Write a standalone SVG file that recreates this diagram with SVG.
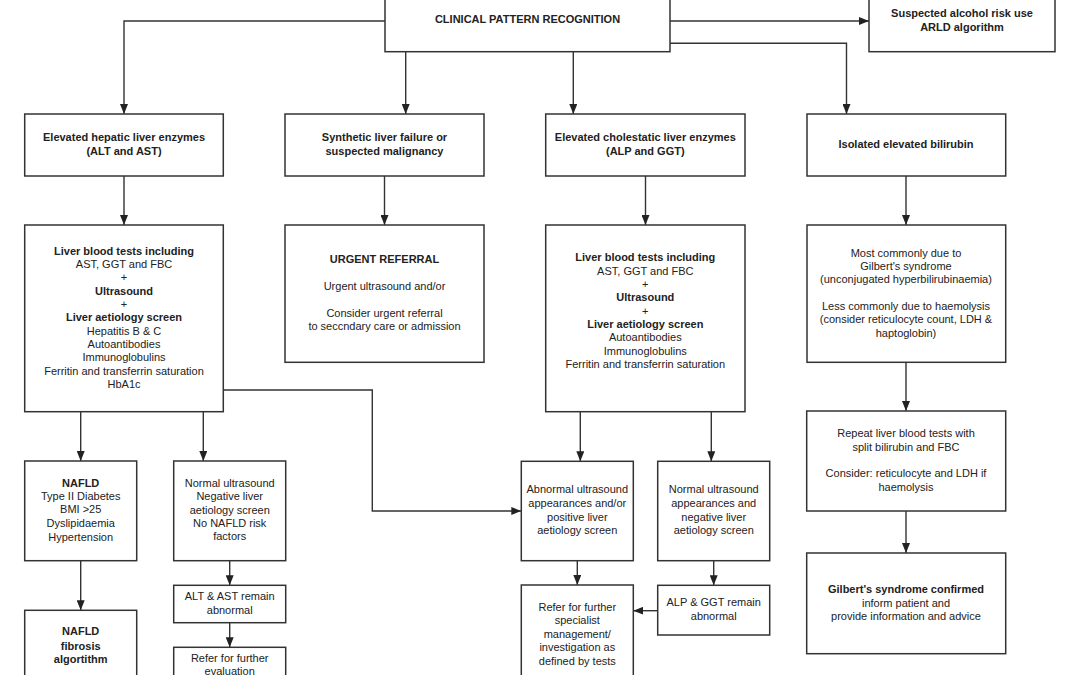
<svg xmlns="http://www.w3.org/2000/svg" width="1080" height="675" viewBox="0 0 1080 675">
<defs>
<marker id="arr" markerUnits="userSpaceOnUse" markerWidth="10" markerHeight="8" refX="10" refY="4" orient="auto">
<path d="M0,0 L10,4 L0,8 z" fill="#222"/>
</marker>
<style>
.box{fill:#fff;stroke:#333;stroke-width:1.5}
.c{fill:none;stroke:#333;stroke-width:1.4;marker-end:url(#arr)}
.l{fill:none;stroke:#333;stroke-width:1.4}
text{font-family:"Liberation Sans",Arial,sans-serif;font-size:11px;fill:#222;text-anchor:middle}
.b{font-weight:bold}
</style>
</defs>
<rect width="1080" height="675" fill="#fff"/>

<g id="connectors">
<path class="c" d="M385,21 H124 V114"/>
<path class="c" d="M405.7,51.7 V114"/>
<path class="c" d="M573.3,51.7 V114"/>
<path class="c" d="M670,43.3 H846.5 V114"/>
<path class="c" d="M670,21 H869"/>
<path class="c" d="M124,176 V225"/>
<path class="c" d="M384.5,176 V225"/>
<path class="c" d="M645.5,176 V225"/>
<path class="c" d="M906,176 V225"/>
<path class="c" d="M80.7,411.7 V461"/>
<path class="c" d="M203.3,411.7 V461"/>
<path class="c" d="M223.3,390 H372.3 V511 H521.3"/>
<path class="c" d="M80.7,560.7 V610.3"/>
<path class="c" d="M229.7,560.7 V585.3"/>
<path class="c" d="M229.7,622.7 V647.3"/>
<path class="c" d="M580.3,411.7 V461.3"/>
<path class="c" d="M711.3,411.7 V461.3"/>
<path class="c" d="M577.3,560.7 V585"/>
<path class="c" d="M713.7,560.7 V585.3"/>
<path class="c" d="M657.7,610.7 H633.3"/>
<path class="c" d="M906,362.3 V411"/>
<path class="c" d="M906,511 V553"/>
</g>

<g id="clinical">
<rect class="box" x="385" y="-30" width="285" height="81.7"/>
<text class="b" x="527.5" y="23.3">CLINICAL PATTERN RECOGNITION</text>
</g>
<g id="alcohol">
<rect class="box" x="869" y="-30" width="186" height="81.7"/>
<text class="b" x="962" y="17.3">Suspected alcohol risk use</text>
<text class="b" x="962" y="30.7">ARLD algorithm</text>
</g>

<g id="hepatic">
<rect class="box" x="24.7" y="114" width="198.6" height="62"/>
<text class="b" x="124" y="141">Elevated hepatic liver enzymes</text>
<text class="b" x="124" y="155">(ALT and AST)</text>
</g>
<g id="synthetic">
<rect class="box" x="285" y="114" width="199" height="62"/>
<text class="b" x="384.5" y="141">Synthetic liver failure or</text>
<text class="b" x="384.5" y="155">suspected malignancy</text>
</g>
<g id="cholestatic">
<rect class="box" x="545.7" y="114" width="199.3" height="62"/>
<text class="b" x="645.3" y="141">Elevated cholestatic liver enzymes</text>
<text class="b" x="645.3" y="155">(ALP and GGT)</text>
</g>
<g id="bilirubin">
<rect class="box" x="807" y="114" width="198.7" height="62"/>
<text class="b" x="906" y="148">Isolated elevated bilirubin</text>
</g>

<g id="tests-hepatic">
<rect class="box" x="24.7" y="225" width="198.6" height="186.7"/>
<text class="b" x="124" y="254.7">Liver blood tests including</text>
<text x="124" y="268">AST, GGT and FBC</text>
<text x="124" y="281.3">+</text>
<text class="b" x="124" y="294.7">Ultrasound</text>
<text x="124" y="308">+</text>
<text class="b" x="124" y="321.3">Liver aetiology screen</text>
<text x="124" y="334.7">Hepatitis B &amp; C</text>
<text x="124" y="348">Autoantibodies</text>
<text x="124" y="361.3">Immunoglobulins</text>
<text x="124" y="374.7">Ferritin and transferrin saturation</text>
<text x="124" y="388">HbA1c</text>
</g>
<g id="urgent">
<rect class="box" x="285" y="225" width="199" height="137.3"/>
<text class="b" x="384.5" y="263">URGENT REFERRAL</text>
<text x="384.5" y="290">Urgent ultrasound and/or</text>
<text x="384.5" y="316.7">Consider urgent referral</text>
<text x="384.5" y="330">to seccndary care or admission</text>
</g>
<g id="tests-cholestatic">
<rect class="box" x="545.7" y="225" width="199.3" height="186.7"/>
<text class="b" x="645.3" y="261.3">Liver blood tests including</text>
<text x="645.3" y="274.7">AST, GGT and FBC</text>
<text x="645.3" y="288">+</text>
<text class="b" x="645.3" y="301.3">Ultrasound</text>
<text x="645.3" y="314.7">+</text>
<text class="b" x="645.3" y="328">Liver aetiology screen</text>
<text x="645.3" y="341.3">Autoantibodies</text>
<text x="645.3" y="354.7">Immunoglobulins</text>
<text x="645.3" y="368">Ferritin and transferrin saturation</text>
</g>
<g id="gilbert-cause">
<rect class="box" x="807" y="225" width="198.7" height="137.3"/>
<text x="906" y="256.7">Most commonly due to</text>
<text x="906" y="270">Gilbert's syndrome</text>
<text x="906" y="283.3">(unconjugated hyperbilirubinaemia)</text>
<text x="906" y="310">Less commonly due to haemolysis</text>
<text x="906" y="323.3">(consider reticulocyte count, LDH &amp;</text>
<text x="906" y="336.7">haptoglobin)</text>
</g>

<g id="nafld">
<rect class="box" x="24.7" y="461" width="112" height="99.7"/>
<text class="b" x="80.7" y="486.7">NAFLD</text>
<text x="80.7" y="500">Type II Diabetes</text>
<text x="80.7" y="513.3">BMI &gt;25</text>
<text x="80.7" y="526.7">Dyslipidaemia</text>
<text x="80.7" y="540.5">Hypertension</text>
</g>
<g id="normal-hepatic">
<rect class="box" x="173.7" y="461" width="112" height="99.7"/>
<text x="229.7" y="486.7">Normal ultrasound</text>
<text x="229.7" y="500.2">Negative liver</text>
<text x="229.7" y="514">aetiology screen</text>
<text x="229.7" y="527.3">No NAFLD risk</text>
<text x="229.7" y="540.4">factors</text>
</g>
<g id="alt-abnormal">
<rect class="box" x="173.7" y="585.3" width="112" height="37.4"/>
<text x="229.7" y="600">ALT &amp; AST remain</text>
<text x="229.7" y="614">abnormal</text>
</g>
<g id="refer-evaluation">
<rect class="box" x="173.7" y="647.3" width="112" height="50"/>
<text x="229.7" y="662.3">Refer for further</text>
<text x="229.7" y="674.7">evaluation</text>
</g>
<g id="nafld-fibrosis">
<rect class="box" x="24.7" y="610.3" width="112" height="90"/>
<text class="b" x="80.7" y="635">NAFLD</text>
<text class="b" x="80.7" y="650.3">fibrosis</text>
<text class="b" x="80.7" y="663.3">algortithm</text>
</g>

<g id="abnormal-us">
<rect class="box" x="521.3" y="461.3" width="112" height="99.4"/>
<text x="577.3" y="493.3">Abnormal ultrasound</text>
<text x="577.3" y="507">appearances and/or</text>
<text x="577.3" y="520.7">positive liver</text>
<text x="577.3" y="533.7">aetiology screen</text>
</g>
<g id="normal-cholestatic">
<rect class="box" x="657.7" y="461.3" width="112" height="99.4"/>
<text x="713.7" y="493.3">Normal ultrasound</text>
<text x="713.7" y="507">appearances and</text>
<text x="713.7" y="520.7">negative liver</text>
<text x="713.7" y="533.7">aetiology screen</text>
</g>
<g id="refer-specialist">
<rect class="box" x="521.3" y="585" width="112" height="115"/>
<text x="577.3" y="610.7">Refer for further</text>
<text x="577.3" y="624">specialist</text>
<text x="577.3" y="637.7">management/</text>
<text x="577.3" y="651.3">investigation as</text>
<text x="577.3" y="664.7">defined by tests</text>
</g>
<g id="alp-abnormal">
<rect class="box" x="657.7" y="585.3" width="112" height="49.7"/>
<text x="713.7" y="606.3">ALP &amp; GGT remain</text>
<text x="713.7" y="619.7">abnormal</text>
</g>

<g id="repeat-tests">
<rect class="box" x="806.7" y="411" width="199" height="100"/>
<text x="906" y="437.3">Repeat liver blood tests with</text>
<text x="906" y="450.7">split bilirubin and FBC</text>
<text x="906" y="477.3">Consider: reticulocyte and LDH if</text>
<text x="906" y="490.7">haemolysis</text>
</g>
<g id="gilbert-confirmed">
<rect class="box" x="806.7" y="553" width="199" height="100.7"/>
<text class="b" x="906" y="593.3">Gilbert's syndrome confirmed</text>
<text x="906" y="606.7">inform patient and</text>
<text x="906" y="620">provide information and advice</text>
</g>
</svg>
